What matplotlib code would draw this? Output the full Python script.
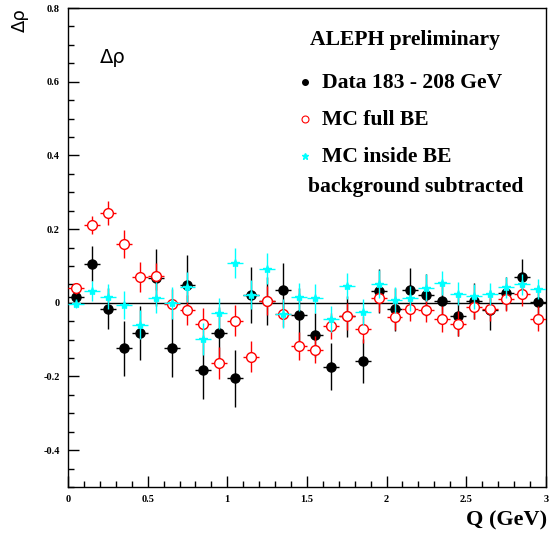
import matplotlib
matplotlib.use("Agg")
import matplotlib.pyplot as plt
import numpy as np
from matplotlib.ticker import MultipleLocator

# bin centres in Q (GeV), bin width 0.1
Q = [0.05, 0.15, 0.25, 0.35, 0.45, 0.55, 0.65, 0.75, 0.85, 0.95,
     1.05, 1.15, 1.25, 1.35, 1.45, 1.55, 1.65, 1.75, 1.85, 1.95,
     2.05, 2.15, 2.25, 2.35, 2.45, 2.55, 2.65, 2.75, 2.85, 2.95]
Q_ERR = 0.05

data_val = [0.015, 0.106, -0.016, -0.124, -0.082, 0.068, -0.122, 0.048, -0.182, -0.082,
            -0.205, 0.022, 0.005, 0.036, -0.033, -0.088, -0.173, -0.037, -0.159, 0.031,
            -0.018, 0.034, 0.021, 0.005, -0.035, 0.005, -0.020, 0.026, 0.069, 0.002]
data_err = [0.016, 0.047, 0.055, 0.075, 0.072, 0.078, 0.080, 0.082, 0.080, 0.070,
            0.078, 0.076, 0.065, 0.072, 0.072, 0.060, 0.065, 0.055, 0.060, 0.060,
            0.058, 0.060, 0.057, 0.050, 0.055, 0.050, 0.055, 0.045, 0.050, 0.045]

full_val = [0.039, 0.211, 0.244, 0.160, 0.070, 0.072, -0.002, -0.020, -0.057, -0.164,
            -0.049, -0.146, 0.006, -0.030, -0.118, -0.127, -0.062, -0.037, -0.072, 0.012,
            -0.039, -0.016, -0.020, -0.045, -0.057, -0.011, -0.018, 0.009, 0.024, -0.043]
full_err = [0.015, 0.025, 0.033, 0.038, 0.040, 0.037, 0.040, 0.040, 0.042, 0.043,
            0.042, 0.041, 0.040, 0.037, 0.038, 0.037, 0.035, 0.036, 0.036, 0.037,
            0.036, 0.033, 0.033, 0.035, 0.034, 0.034, 0.032, 0.032, 0.032, 0.033]

inside_val = [-0.003, 0.033, 0.016, -0.007, -0.059, 0.014, 0.000, 0.043, -0.098, -0.029,
              0.109, 0.022, 0.093, -0.030, 0.015, 0.012, -0.045, 0.045, -0.025, 0.052,
              0.008, 0.012, 0.041, 0.054, 0.025, 0.018, 0.023, 0.042, 0.050, 0.038]
inside_err = [0.012, 0.027, 0.034, 0.038, 0.040, 0.042, 0.043, 0.041, 0.043, 0.042,
              0.041, 0.040, 0.041, 0.039, 0.038, 0.039, 0.035, 0.035, 0.035, 0.038,
              0.035, 0.033, 0.036, 0.032, 0.032, 0.034, 0.030, 0.029, 0.029, 0.027]

SERIF = "Liberation Serif"
RED = "#FF0000"
CYAN = "#00FFFF"
LEG_SIZE = 15.6

fig = plt.figure(figsize=(5.53, 5.36), dpi=100, facecolor="white")
ax = fig.add_axes([0.123, 0.0914, 0.864, 0.8936])

ax.axhline(0, color="black", linewidth=1.0, zorder=1)

ax.errorbar(Q, data_val, xerr=Q_ERR, yerr=data_err, fmt="o", color="black",
            markersize=6.5, elinewidth=1.0, capsize=0, zorder=2)
ax.errorbar(Q, full_val, xerr=Q_ERR, yerr=full_err, fmt="o", color=RED,
            mfc="white", mec=RED, markersize=7, mew=1.0, elinewidth=1.0,
            capsize=0, zorder=3)
ax.errorbar(Q, inside_val, xerr=Q_ERR, yerr=inside_err, fmt="*", color=CYAN,
            markersize=6, elinewidth=1.0, capsize=0, zorder=4)

ax.set_xlim(0, 3)
ax.set_ylim(-0.5, 0.8)
ax.xaxis.set_major_locator(MultipleLocator(0.5))
ax.xaxis.set_minor_locator(MultipleLocator(0.1))
ax.yaxis.set_major_locator(MultipleLocator(0.2))
ax.yaxis.set_minor_locator(MultipleLocator(0.05))
ax.tick_params(which="both", direction="in", top=False, right=False,
               width=1.0, colors="black")
ax.tick_params(which="major", length=8, pad=6)
ax.tick_params(which="minor", length=4)

ax.set_xticks([0, 0.5, 1, 1.5, 2, 2.5, 3])
ax.set_xticklabels(["0", "0.5", "1", "1.5", "2", "2.5", "3"])
yt = [-0.4, -0.2, 0, 0.2, 0.4, 0.6, 0.8]
ax.set_yticks(yt)
ax.set_yticklabels(["-0.4", "-0.2", "0", "0.2", "0.4", "0.6", "0.8"])
for lab in ax.get_xticklabels() + ax.get_yticklabels():
    lab.set_fontfamily(SERIF)
    lab.set_fontweight("bold")
    lab.set_fontsize(7.5)

for sp in ax.spines.values():
    sp.set_linewidth(1.0)

# axis titles
fig.text(0.99, 0.011, "Q (GeV)", fontsize=16, fontweight="bold",
         family=SERIF, ha="right", va="bottom")
fig.text(0.036, 0.985, "Δρ", fontsize=13, rotation=90, ha="center", va="top",
         family="DejaVu Sans")
ax.text(0.094, 0.896, "Δρ", fontsize=14, transform=ax.transAxes,
        ha="center", va="center", family="DejaVu Sans")

# legend block
def fx(px):
    return px / 553

def fy(py):
    return 1 - py / 536

fig.text(fx(310), fy(40), "ALEPH preliminary", fontsize=LEG_SIZE, fontweight="bold",
         family=SERIF, va="center", ha="left")
fig.text(fx(322), fy(83), "Data 183 - 208 GeV", fontsize=LEG_SIZE, fontweight="bold",
         family=SERIF, va="center", ha="left")
fig.text(fx(322), fy(120), "MC full BE", fontsize=LEG_SIZE, fontweight="bold",
         family=SERIF, va="center", ha="left")
fig.text(fx(322), fy(157), "MC inside BE", fontsize=LEG_SIZE, fontweight="bold",
         family=SERIF, va="center", ha="left")
fig.text(fx(308), fy(187), "background subtracted", fontsize=LEG_SIZE, fontweight="bold",
         family=SERIF, va="center", ha="left")

lx = fx(305)
fig.lines.append(plt.Line2D([lx], [fy(82)], marker="o", color="black",
                            markersize=4, transform=fig.transFigure, linestyle="none"))
fig.lines.append(plt.Line2D([lx], [fy(119)], marker="o", mfc="white", mec=RED,
                            markersize=5, mew=0.8, transform=fig.transFigure,
                            linestyle="none"))
fig.lines.append(plt.Line2D([lx], [fy(156)], marker="*", color=CYAN,
                            markersize=5, transform=fig.transFigure, linestyle="none"))

fig.savefig("out.png", dpi=100, facecolor="white")
